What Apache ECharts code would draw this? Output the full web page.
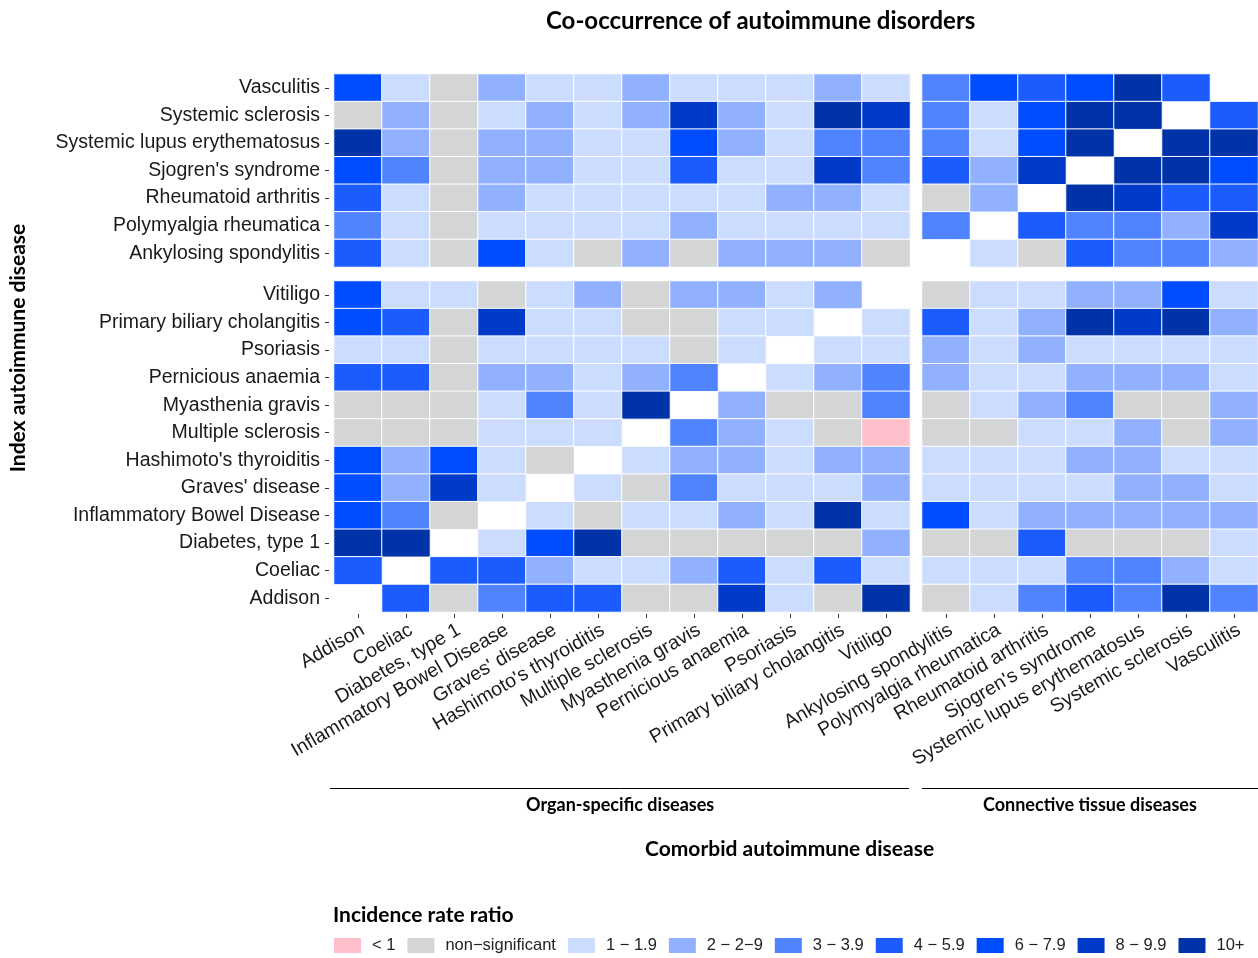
<!DOCTYPE html>
<html>
<head>
<meta charset="utf-8">
<script src="https://cdn.jsdelivr.net/npm/echarts@6/dist/echarts.min.js"></script>
<style>
  html, body { margin: 0; padding: 0; background: #fff; }
  #chart { width: 1258px; height: 958px; }
</style>
</head>
<body>
<div id="chart"></div>
<script>
// comorbid disease columns, left to right
const organCols = ['Addison', 'Coeliac', 'Diabetes, type 1', 'Inflammatory Bowel Disease', "Graves' disease",
  "Hashimoto's thyroiditis", 'Multiple sclerosis', 'Myasthenia gravis', 'Pernicious anaemia', 'Psoriasis',
  'Primary biliary cholangitis', 'Vitiligo'];
const connectiveCols = ['Ankylosing spondylitis', 'Polymyalgia rheumatica', 'Rheumatoid arthritis',
  "Sjogren's syndrome", 'Systemic lupus erythematosus', 'Systemic sclerosis', 'Vasculitis'];

// index disease rows, top to bottom
const connectiveRows = ['Vasculitis', 'Systemic sclerosis', 'Systemic lupus erythematosus', "Sjogren's syndrome",
  'Rheumatoid arthritis', 'Polymyalgia rheumatica', 'Ankylosing spondylitis'];
const organRows = ['Vitiligo', 'Primary biliary cholangitis', 'Psoriasis', 'Pernicious anaemia', 'Myasthenia gravis',
  'Multiple sclerosis', "Hashimoto's thyroiditis", "Graves' disease", 'Inflammatory Bowel Disease',
  'Diabetes, type 1', 'Coeliac', 'Addison'];

// incidence rate ratio bins (index = code used in the matrices, null = same disease)
const bins = ['< 1', 'non\u2212significant', '1 \u2212 1.9', '2 \u2212 2\u22129', '3 \u2212 3.9',
  '4 \u2212 5.9', '6 \u2212 7.9', '8 \u2212 9.9', '10+'];
const binColors = ['#ffc0cb', '#d4d5d6', '#ccdcff', '#91b1ff', '#5083ff', '#1c5cff', '#004cff', '#003ac8', '#0033a8'];

// connective tissue rows x organ-specific columns
const ctByOrgan = [
  [6, 2, 1, 3, 2, 2, 3, 2, 2, 2, 3, 2],
  [1, 3, 1, 2, 3, 2, 3, 7, 3, 2, 8, 7],
  [8, 3, 1, 3, 3, 2, 2, 6, 3, 2, 4, 4],
  [6, 4, 1, 3, 3, 2, 2, 5, 2, 2, 7, 4],
  [5, 2, 1, 3, 2, 2, 2, 2, 2, 3, 3, 2],
  [4, 2, 1, 2, 2, 2, 2, 3, 2, 2, 2, 2],
  [5, 2, 1, 6, 2, 1, 3, 1, 3, 3, 3, 1]
];
// connective tissue rows x connective tissue columns
const ctByCt = [
  [4, 6, 5, 6, 8, 5, null],
  [4, 2, 6, 8, 8, null, 5],
  [4, 2, 6, 8, null, 8, 8],
  [5, 3, 7, null, 8, 8, 6],
  [1, 3, null, 8, 7, 5, 5],
  [4, null, 5, 4, 4, 3, 7],
  [null, 2, 1, 5, 4, 4, 3]
];
// organ-specific rows x organ-specific columns
const organByOrgan = [
  [6, 2, 2, 1, 2, 3, 1, 3, 3, 2, 3, null],
  [6, 5, 1, 7, 2, 2, 1, 1, 2, 2, null, 2],
  [2, 2, 1, 2, 2, 2, 2, 1, 2, null, 2, 2],
  [5, 5, 1, 3, 3, 2, 3, 4, null, 2, 3, 4],
  [1, 1, 1, 2, 4, 2, 8, null, 3, 1, 1, 4],
  [1, 1, 1, 2, 2, 2, null, 4, 3, 2, 1, 0],
  [6, 3, 6, 2, 1, null, 2, 3, 3, 2, 3, 3],
  [6, 3, 7, 2, null, 2, 1, 4, 2, 2, 2, 3],
  [6, 4, 1, null, 2, 1, 2, 2, 3, 2, 8, 2],
  [8, 8, null, 2, 6, 8, 1, 1, 1, 1, 1, 3],
  [5, null, 5, 5, 3, 2, 2, 3, 5, 2, 5, 2],
  [null, 5, 1, 4, 5, 5, 1, 1, 7, 2, 1, 8]
];
// organ-specific rows x connective tissue columns
const organByCt = [
  [1, 2, 2, 3, 3, 6, 2],
  [5, 2, 3, 8, 7, 8, 3],
  [3, 2, 3, 2, 2, 2, 2],
  [3, 2, 2, 3, 3, 3, 2],
  [1, 2, 3, 4, 1, 1, 3],
  [1, 1, 2, 2, 3, 1, 3],
  [2, 2, 2, 3, 3, 2, 2],
  [2, 2, 2, 2, 3, 3, 2],
  [6, 2, 3, 3, 3, 3, 3],
  [1, 1, 5, 1, 1, 1, 2],
  [2, 2, 2, 4, 4, 3, 2],
  [1, 2, 4, 5, 4, 8, 4]
];

const toCells = (m) => {
  const out = [];
  m.forEach((row, y) => row.forEach((v, x) => { if (v !== null) out.push([x, y, v]); }));
  return out;
};

const labelFont = { fontFamily: 'Liberation Sans', fontSize: 19.5, color: '#1a1a1a' };
const boldFont = 'Lato';

const chart = echarts.init(document.getElementById('chart'));

// grids: 0 top-left, 1 top-right, 2 bottom-left, 3 bottom-right
const grids = [
  { left: 334, top: 74, width: 576, height: 193 },
  { left: 922, top: 74, width: 336, height: 193 },
  { left: 334, top: 281, width: 576, height: 331 },
  { left: 922, top: 281, width: 336, height: 331 }
];

const xAxisFor = (i, cols, showLabels) => ({
  type: 'category', gridIndex: i, data: cols,
  axisLine: { show: false },
  axisTick: { show: showLabels, alignWithLabel: true, length: 4, lineStyle: { color: '#333' } },
  axisLabel: Object.assign({ show: showLabels, rotate: 30, interval: 0, margin: 6,
    align: 'right', verticalAlign: 'top' }, labelFont),
  offset: 2
});
const yAxisFor = (i, rows, showLabels) => ({
  type: 'category', gridIndex: i, data: rows, inverse: true,
  axisLine: { show: false },
  axisTick: { show: showLabels, alignWithLabel: true, length: 4, lineStyle: { color: '#333' } },
  axisLabel: Object.assign({ show: showLabels, interval: 0, margin: 9 }, labelFont),
  offset: 5
});

const cellStyle = { borderColor: '#ffffff', borderWidth: 1 };
const bold = (size) => ({ fontFamily: boldFont, fontWeight: 'bold', fontSize: size, color: '#000' });

const options = {
  backgroundColor: '#ffffff',
  animation: false,
  title: [
    { text: 'Co-occurrence of autoimmune disorders', left: 541, top: 4, textStyle: bold(24) },
    { text: 'Organ-specific diseases', left: 521, top: 791, textStyle: bold(18) },
    { text: 'Connective tissue diseases', left: 978, top: 791, textStyle: bold(18) },
    { text: 'Comorbid autoimmune disease', left: 640, top: 834, textStyle: bold(21) },
    { text: 'Incidence rate ratio', left: 328, top: 900, textStyle: bold(21) }
  ],
  grid: grids,
  xAxis: [
    xAxisFor(0, organCols, false),
    xAxisFor(1, connectiveCols, false),
    xAxisFor(2, organCols, true),
    xAxisFor(3, connectiveCols, true)
  ],
  yAxis: [
    yAxisFor(0, connectiveRows, true),
    yAxisFor(1, connectiveRows, false),
    yAxisFor(2, organRows, true),
    yAxisFor(3, organRows, false)
  ],
  visualMap: {
    type: 'piecewise', seriesIndex: [0, 1, 2, 3], dimension: 2,
    orient: 'horizontal', left: 334, bottom: 4, padding: 0,
    itemWidth: 27, itemHeight: 15, itemGap: 12, textGap: 11, itemSymbol: 'rect',
    selectedMode: false, hoverLink: false,
    textStyle: { fontFamily: 'Liberation Sans', fontSize: 16.5, color: '#222' },
    pieces: bins.map((b, i) => ({ value: i, label: b, color: binColors[i] }))
  },
  series: [
    { type: 'heatmap', xAxisIndex: 0, yAxisIndex: 0, data: toCells(ctByOrgan), itemStyle: cellStyle },
    { type: 'heatmap', xAxisIndex: 1, yAxisIndex: 1, data: toCells(ctByCt), itemStyle: cellStyle },
    { type: 'heatmap', xAxisIndex: 2, yAxisIndex: 2, data: toCells(organByOrgan), itemStyle: cellStyle },
    { type: 'heatmap', xAxisIndex: 3, yAxisIndex: 3, data: toCells(organByCt), itemStyle: cellStyle }
  ],
  graphic: [
    { type: 'text', x: 18, y: 348, rotation: Math.PI / 2,
      style: { text: 'Index autoimmune disease', textAlign: 'center', textVerticalAlign: 'middle',
        font: 'bold 21px Lato', fill: '#000' } },
    { type: 'line', shape: { x1: 330, y1: 788.5, x2: 909, y2: 788.5 }, style: { stroke: '#000', lineWidth: 1 } },
    { type: 'line', shape: { x1: 922, y1: 788.5, x2: 1258, y2: 788.5 }, style: { stroke: '#000', lineWidth: 1 } }
  ]
};
chart.setOption(options);
</script>
</body>
</html>
